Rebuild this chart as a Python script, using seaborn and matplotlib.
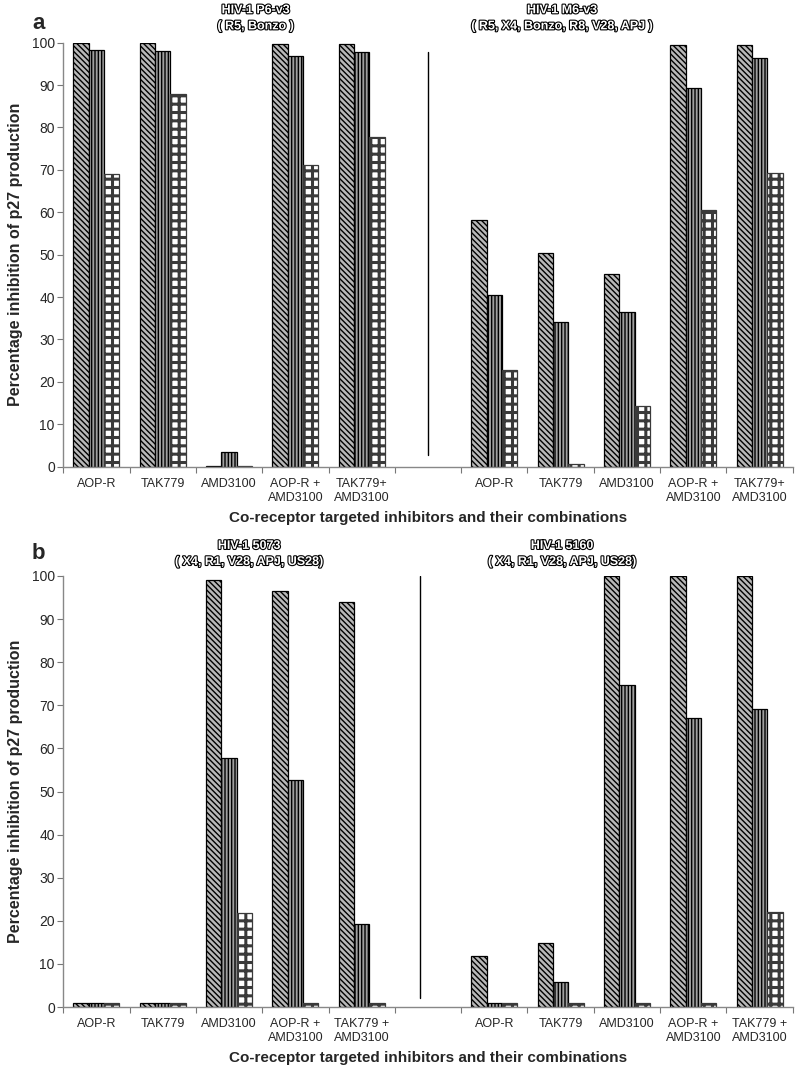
import matplotlib
matplotlib.use("Agg")
from matplotlib import pyplot as plt
import matplotlib.patheffects as pe
import seaborn as sns
import pandas as pd
import numpy as np

sns.set_style("white")
plt.rcParams["font.family"] = ["Liberation Sans", "DejaVu Sans"]
plt.rcParams["hatch.linewidth"] = 1.0

# slots: 5 inhibitors, an empty gap, 5 inhibitors
labels = ["AOP-R", "TAK779", "AMD3100", "AOP-R +\nAMD3100", "TAK779+\nAMD3100", "",
          "AOP-R", "TAK779", "AMD3100", "AOP-R +\nAMD3100", "TAK779+\nAMD3100"]
labels_b = ["AOP-R", "TAK779", "AMD3100", "AOP-R +\nAMD3100", "TAK779 +\nAMD3100", "",
            "AOP-R", "TAK779", "AMD3100", "AOP-R +\nAMD3100", "TAK779 +\nAMD3100"]
series = ["s1", "s2", "s3"]

# panel a: HIV-1 P6-v3 (first five) and HIV-1 M6-v3 (last five)
a_s1 = [100, 100, 0.2, 99.8, 99.8, None, 58.2, 50.4, 45.4, 99.5, 99.4]
a_s2 = [98.2, 98.0, 3.4, 96.9, 97.8, None, 40.4, 34.2, 36.6, 89.3, 96.4]
a_s3 = [69.0, 88.0, 0.2, 71.2, 77.8, None, 22.7, 0.7, 14.4, 60.5, 69.3]

# panel b: HIV-1 5073 and HIV-1 5160
b_s1 = [1.0, 1.0, 99.0, 96.5, 94.0, None, 11.8, 14.8, 100, 100, 100]
b_s2 = [1.0, 1.0, 57.8, 52.7, 19.2, None, 1.0, 5.8, 74.6, 67.0, 69.2]
b_s3 = [1.0, 1.0, 21.8, 1.0, 1.0, None, 1.0, 1.0, 1.0, 1.0, 22.0]

titles_a = [("HIV-1 P6-v3\n( R5, Bonzo )", 0.264),
            ("HIV-1 M6-v3\n( R5, X4, Bonzo, R8, V28, APJ )", 0.684)]
titles_b = [("HIV-1 5073\n( X4, R1, V28, APJ, US28)", 0.255),
            ("HIV-1 5160\n( X4, R1, V28, APJ, US28)", 0.684)]

slots = [f"k{i}" for i in range(len(labels))]


def make_frame(v1, v2, v3):
    rows = []
    for s, vals in zip(series, [v1, v2, v3]):
        for k, v in zip(slots, vals):
            if v is not None:
                rows.append({"slot": k, "series": s, "value": v})
    return pd.DataFrame(rows)


def draw_panel(ax, df, ticklabels, sep_x, sep_range):
    sns.barplot(data=df, x="slot", y="value", hue="series", order=slots,
                hue_order=series, width=0.69, gap=0, dodge=True,
                palette=["#b8b8b8", "#a0a0a0", "#ffffff"],
                edgecolor="black", linewidth=0.9, legend=False, ax=ax)
    hatches = ["\\\\\\\\\\\\", "|||||", "++"]
    for cont, h in zip(ax.containers, hatches):
        for p in cont:
            p.set_hatch(h)
            if h == "++":
                p.set_edgecolor("#3a3a3a")
                if hasattr(p, "set_hatch_linewidth"):
                    p.set_hatch_linewidth(2.2)
    ax.set_xlim(-0.5, 10.5)
    ax.set_ylim(0, 100)
    ax.set_yticks(np.arange(0, 101, 10))
    ax.set_xticks(np.arange(-0.5, 11, 1))
    ax.set_xticklabels([])
    ax.set_xticks(np.arange(0, 11), minor=True)
    ax.set_xticklabels(ticklabels, minor=True, fontsize=9)
    ax.tick_params(axis="x", which="major", length=4, color="#777", direction="out", bottom=True)
    ax.tick_params(axis="x", which="minor", length=0, pad=8)
    ax.tick_params(axis="y", length=4, color="#777", direction="out", left=True, labelsize=10, pad=2)
    for s in ["top", "right"]:
        ax.spines[s].set_visible(False)
    for s in ["left", "bottom"]:
        ax.spines[s].set_color("#888")
        ax.spines[s].set_linewidth(1.0)
    ax.set_xlabel("Co-receptor targeted inhibitors and their combinations",
                  fontsize=11, fontweight="bold", labelpad=5)
    ax.set_ylabel("Percentage inhibition of p27 production", fontsize=11.5,
                  fontweight="bold", labelpad=6)
    ax.plot([sep_x, sep_x], sep_range, color="black", linewidth=1.0)


fig = plt.figure(figsize=(8, 10.67), dpi=100)
ax_a = fig.add_axes([0.079, 0.5626, 0.912, 0.3974])
ax_b = fig.add_axes([0.079, 0.0562, 0.912, 0.404])

draw_panel(ax_a, make_frame(a_s1, a_s2, a_s3), labels, 5.0, [2.8, 97.7])
draw_panel(ax_b, make_frame(b_s1, b_s2, b_s3), labels_b, 4.88, [2.0, 100])

outline = [pe.Stroke(linewidth=1.6, foreground="black"), pe.Normal()]
for (txt, xf) in titles_a:
    fig.text(xf * 0.912 + 0.079, 0.996, txt, ha="center", va="top", fontsize=9,
             fontweight="bold", color="white", path_effects=outline, linespacing=1.45)
for (txt, xf) in titles_b:
    fig.text(xf * 0.912 + 0.079, 0.494, txt, ha="center", va="top", fontsize=9,
             fontweight="bold", color="white", path_effects=outline, linespacing=1.45)

fig.text(0.04, 0.988, "a", fontsize=16, fontweight="bold", va="top")
fig.text(0.04, 0.491, "b", fontsize=16, fontweight="bold", va="top")

fig.savefig("out.png", dpi=100)
